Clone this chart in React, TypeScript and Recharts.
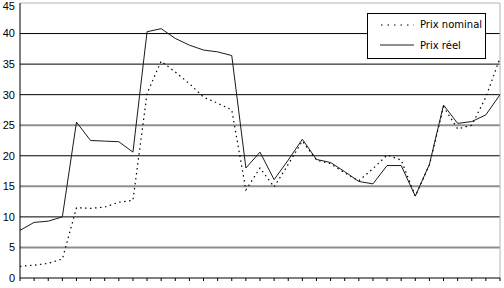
import React from "react";
import { LineChart, Line, XAxis, YAxis, ReferenceLine } from "recharts";

const periods: number[] = Array.from({ length: 35 }, (_, i) => i + 1);

const prixNominal: number[] = [
  1.9, 2.1, 2.4, 3.1, 11.5, 11.4, 11.6, 12.4, 12.7, 30.2, 35.5, 33.7, 31.8,
  29.6, 28.6, 27.5, 14.4, 18.0, 14.9, 18.6, 22.4, 19.3, 18.7, 17.2, 15.9, 17.9,
  20.1, 19.3, 13.4, 18.5, 28.0, 24.4, 25.0, 29.6, 36.0,
];

const prixReel: number[] = [
  7.8, 9.1, 9.3, 10.0, 25.5, 22.5, 22.4, 22.3, 20.6, 40.3, 40.8, 39.2, 38.1,
  37.3, 37.0, 36.4, 18.0, 20.6, 16.1, 19.3, 22.7, 19.4, 18.9, 17.4, 15.8, 15.4,
  18.4, 18.4, 13.4, 18.6, 28.3, 25.3, 25.6, 26.7, 30.0,
];

const yTicks: number[] = [0, 5, 10, 15, 20, 25, 30, 35, 40, 45];
const darkLines: number[] = [10, 20, 30, 35, 40];
const grayLines: number[] = [5, 15, 25];

const data = periods.map((p, i) => ({
  period: p,
  nominal: prixNominal[i],
  reel: prixReel[i],
}));

function LegendBox(): React.ReactElement {
  const text: React.CSSProperties = {
    fontFamily: "DejaVu Sans",
    fontSize: 10,
    color: "#000",
    marginLeft: 6,
    whiteSpace: "nowrap",
  };
  return (
    <div
      style={{
        position: "absolute",
        left: 367,
        top: 13,
        width: 117,
        height: 43,
        border: "1px solid #000",
        background: "#fff",
        paddingTop: 1,
      }}
    >
      <div style={{ display: "flex", alignItems: "center", height: 19, marginLeft: 12 }}>
        <svg width={34} height={4}>
          <line x1={1} y1={2} x2={34} y2={2} stroke="#000" strokeWidth={1} strokeDasharray="1.5 5" />
        </svg>
        <span style={text}>Prix nominal</span>
      </div>
      <div style={{ display: "flex", alignItems: "center", height: 22, marginLeft: 12 }}>
        <svg width={34} height={4}>
          <line x1={0} y1={2} x2={34} y2={2} stroke="#8f8f8f" strokeWidth={2} />
        </svg>
        <span style={text}>Prix réel</span>
      </div>
    </div>
  );
}

export default function App(): React.ReactElement {
  return (
    <div style={{ position: "absolute", left: 0, top: 0, width: 504, height: 288, background: "#fff" }}>
      <LineChart
        width={504}
        height={288}
        data={data}
        margin={{ top: 3, right: 4, bottom: 0, left: 0 }}
      >
        <XAxis
          dataKey="period"
          interval={0}
          tickFormatter={() => ""}
          tickSize={3}
          tickLine={{ stroke: "#000" }}
          axisLine={{ stroke: "#000" }}
          height={10}
          padding={{ left: 0, right: 0 }}
        />
        <YAxis
          domain={[0, 45]}
          ticks={yTicks}
          width={20}
          tickLine={false}
          tickSize={0}
          tickMargin={5}
          axisLine={{ stroke: "#000" }}
          tick={{ fill: "#000", fontSize: 11, fontFamily: "Liberation Sans" }}
        />
        {grayLines.map((v) => (
          <ReferenceLine key={"g" + v} y={v} stroke="#8f8f8f" strokeWidth={2} />
        ))}
        {darkLines.map((v) => (
          <ReferenceLine key={"d" + v} y={v} stroke="#000" strokeWidth={1} />
        ))}
        <ReferenceLine y={45} stroke="#b4b4b4" strokeWidth={1} />
        <ReferenceLine x={periods[periods.length - 1]} stroke="#b4b4b4" strokeWidth={1} />
        <Line
          type="linear"
          dataKey="nominal"
          name="Prix nominal"
          stroke="#000"
          strokeWidth={1.2}
          strokeDasharray="1.5 3.5"
          dot={false}
          isAnimationActive={false}
        />
        <Line
          type="linear"
          dataKey="reel"
          name="Prix réel"
          stroke="#1a1a1a"
          strokeWidth={1}
          dot={false}
          isAnimationActive={false}
        />
      </LineChart>
      <LegendBox />
    </div>
  );
}
